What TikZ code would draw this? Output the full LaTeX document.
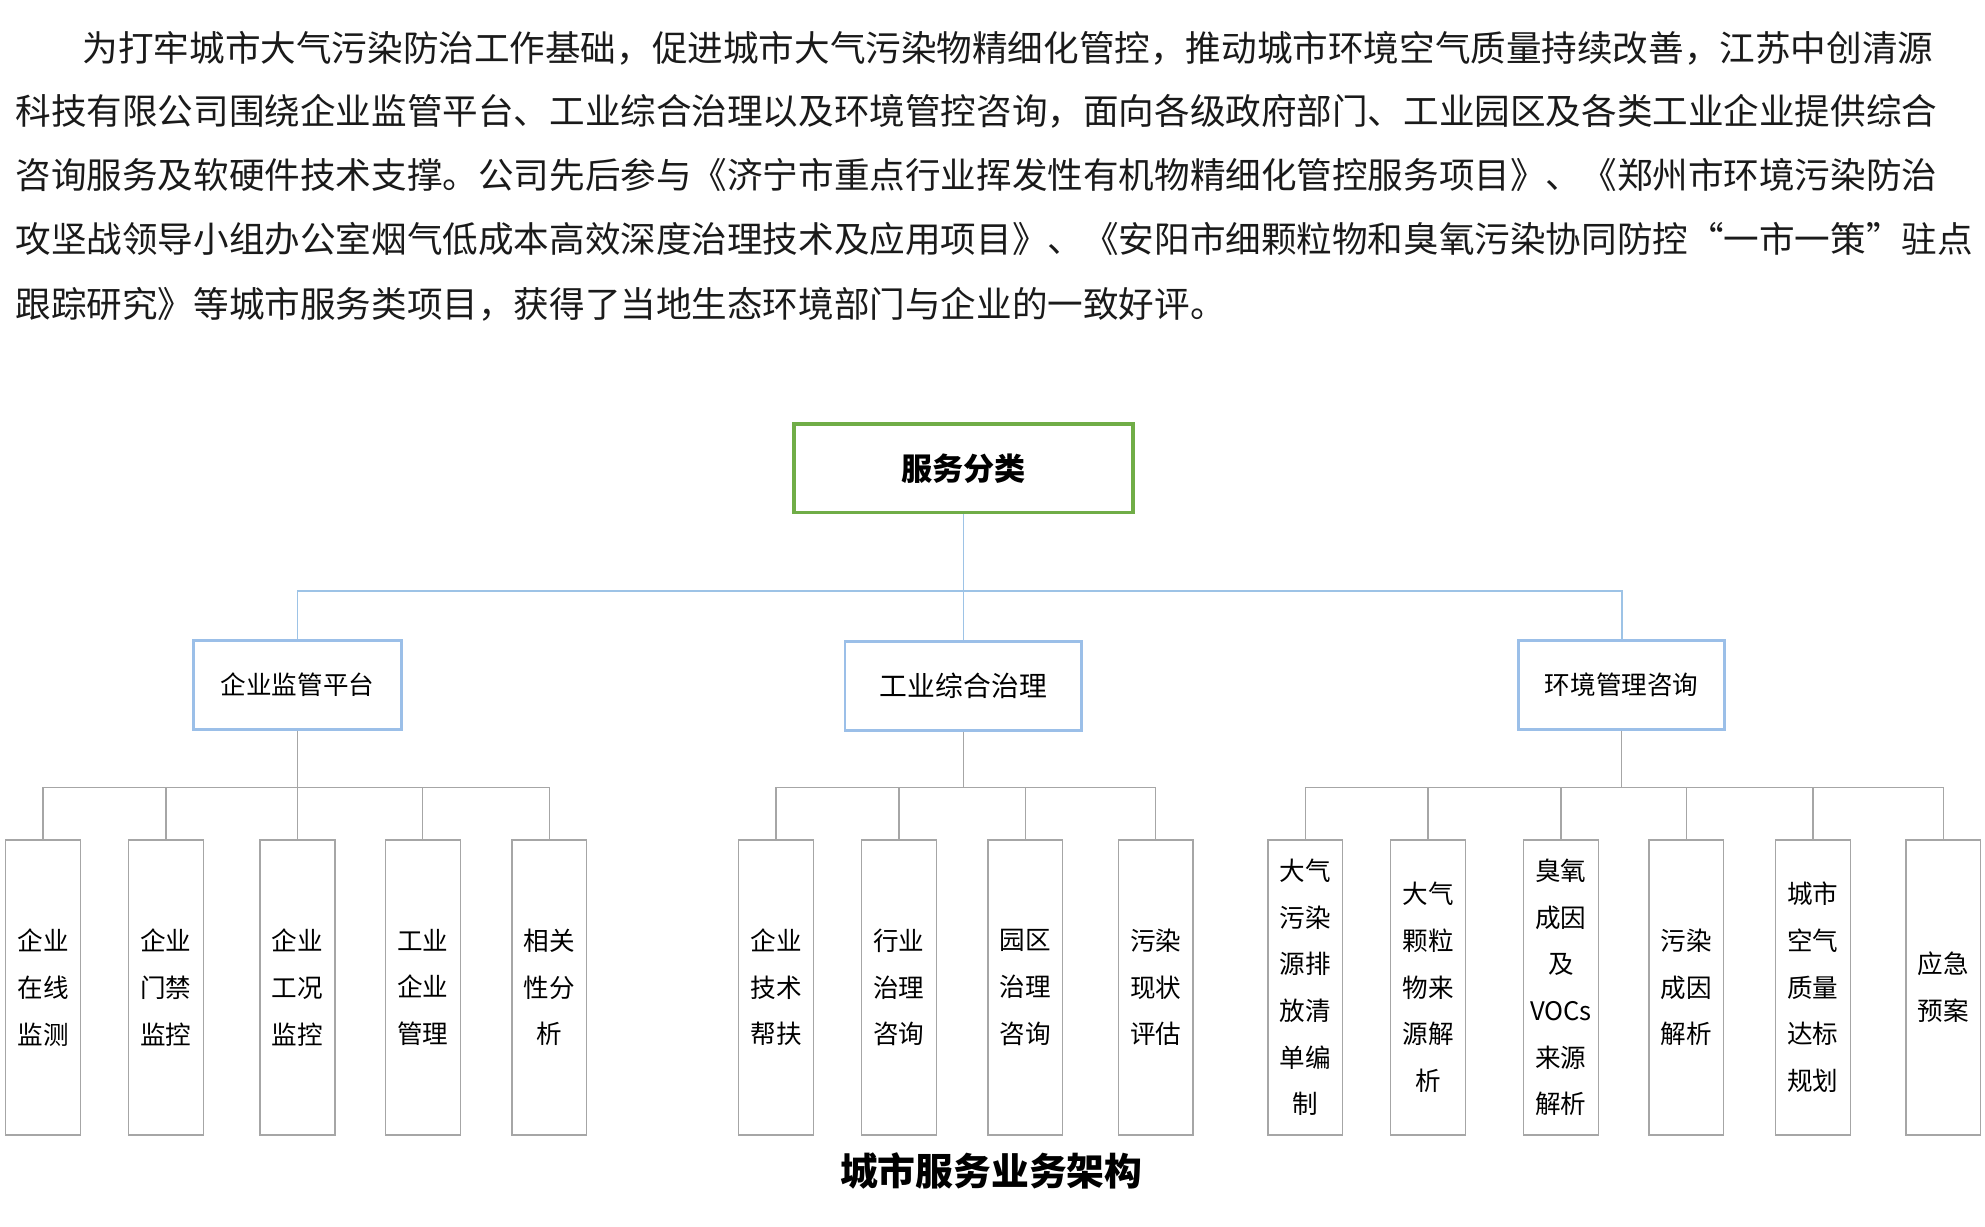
\documentclass[tikz,border=0pt]{standalone}
\usepackage{fontspec}
\setmainfont{Noto Sans CJK SC}
\definecolor{gbox}{HTML}{70AD47}
\definecolor{bline}{HTML}{9DC3E6}
\definecolor{bbox}{HTML}{9BBFE8}
\definecolor{lgray}{HTML}{A6A6A6}
\definecolor{tx}{HTML}{1A1A1A}
\begin{document}
\begin{tikzpicture}[x=0.02cm,y=-0.02cm,
  para/.style={anchor=west,inner sep=0,font=\fontsize{16}{18}\selectfont,text=tx},
  topbox/.style={draw=gbox,line width=1.6pt,minimum width=5.36cm,minimum height=1.4cm,font=\fontsize{14}{16}\selectfont\bfseries},
  midbox/.style={draw=bbox,line width=1.3pt,minimum height=1.4cm,font=\fontsize{11.5}{14}\selectfont},
  leaf/.style={draw=lgray,line width=0.6pt,minimum width=1.18cm,minimum height=4.66cm,align=center,inner sep=0,font=\fontsize{11.5}{21}\selectfont},
  conn/.style={draw=bline,line width=0.8pt},
  conn2/.style={draw=lgray,line width=0.6pt}]
\useasboundingbox[fill=white] (0,0) rectangle (1568,969);
\node[para] at (65,38) {为打牢城市大气污染防治工作基础，促进城市大气污染物精细化管控，推动城市环境空气质量持续改善，江苏中创清源};
\node[para] at (12,88) {科技有限公司围绕企业监管平台、工业综合治理以及环境管控咨询，面向各级政府部门、工业园区及各类工业企业提供综合};
\node[para] at (12,138) {咨询服务及软硬件技术支撑。公司先后参与《济宁市重点行业挥发性有机物精细化管控服务项目》、《郑州市环境污染防治};
\node[para] at (12,189) {攻坚战领导小组办公室烟气低成本高效深度治理技术及应用项目》、《安阳市细颗粒物和臭氧污染协同防控“一市一策”驻点};
\node[para] at (12,240) {跟踪研究》等城市服务类项目，获得了当地生态环境部门与企业的一致好评。};

\node[topbox] (top) at (761,370) {服务分类};
\node[midbox,minimum width=3.28cm] (m1) at (235,541) {企业监管平台};
\node[midbox,minimum width=3.74cm,font=\fontsize{12.5}{14}\selectfont] (m2) at (761,542) {工业综合治理};
\node[midbox,minimum width=3.26cm] (m3) at (1281,541) {环境管理咨询};
\coordinate (h) at (761,467);
\draw[conn] (top.south) -- (h);
\draw[conn] (m1.north) |- (h) -| (m3.north);
\draw[conn] (h) -- (m2.north);

\foreach \n/\x/\t in {a1/34/{企业\\在线\\监测},a2/131/{企业\\门禁\\监控},a3/235/{企业\\工况\\监控},a4/334/{工业\\企业\\管理},a5/434/{相关\\性分\\析},
 b1/613/{企业\\技术\\帮扶},b2/710/{行业\\治理\\咨询},b3/810/{园区\\治理\\咨询},b4/913/{污染\\现状\\评估},
 c1/1031/{大气\\污染\\源排\\放清\\单编\\制},c2/1128/{大气\\颗粒\\物来\\源解\\析},c3/1233/{臭氧\\成因\\及\\VOCs\\来源\\解析},c4/1332/{污染\\成因\\解析},c5/1432/{城市\\空气\\质量\\达标\\规划},c6/1535/{应急\\预案}}
  {\node[leaf] (\n) at (\x,780) {\t};}
\coordinate (y622) at (0,622);
\foreach \m/\a/\b/\l in {m1/a1/a5/{a1,a2,a3,a4,a5},m2/b1/b4/{b1,b2,b3,b4},m3/c1/c6/{c1,c2,c3,c4,c5,c6}}{
  \draw[conn2] (\m.south) -- (\m.south|-y622);
  \draw[conn2] (\a.north|-y622) -- (\b.north|-y622);
  \foreach \k in \l {\draw[conn2] (\k.north) -- (\k.north|-y622);}
}
\node[font=\fontsize{17}{20}\selectfont\bfseries] (cap) at (783,925) {城市服务业务架构};
\end{tikzpicture}
\end{document}
